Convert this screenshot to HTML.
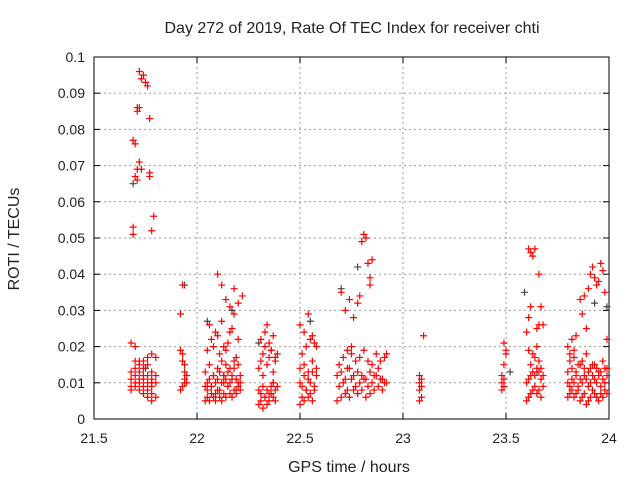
<!DOCTYPE html>
<html><head><meta charset="utf-8"><style>
body{margin:0;background:#fff}
svg text{font-family:"Liberation Sans",sans-serif;font-size:14px;fill:#222}
svg text.big{font-size:16px}
</style></head><body>
<svg id="chart" width="640" height="480" xmlns="http://www.w3.org/2000/svg">
<rect width="640" height="480" fill="#fff"/>
<g id="grid"></g>
<g id="axes"></g>
<g id="pts"></g>
<text class="big" x="352" y="33" text-anchor="middle">Day 272 of 2019, Rate Of TEC Index for receiver chti</text>
<text class="big" x="349" y="472" text-anchor="middle">GPS time / hours</text>
<text class="big" transform="translate(19,239) rotate(-90)" text-anchor="middle">ROTI / TECUs</text>
</svg>
<script>
const xTicks=[21.5,22,22.5,23,23.5,24];
const xTickLabels=["21.5","22","22.5","23","23.5","24"];
const yTicks=[0,0.01,0.02,0.03,0.04,0.05,0.06,0.07,0.08,0.09,0.1];
const yTickLabels=["0","0.01","0.02","0.03","0.04","0.05","0.06","0.07","0.08","0.09","0.1"];
const redX=[21.72,21.74,21.73,21.75,21.76,21.71,21.72,21.77,21.69,21.70,21.72,21.71,21.73,21.70,21.71,21.77,21.77,21.79,21.78,21.69,21.69,
21.68,21.68,21.68,21.68,21.68,21.70,21.70,21.70,21.70,21.70,21.70,21.72,21.72,21.72,21.72,21.72,21.72,21.74,21.74,21.74,21.74,21.74,21.74,21.76,21.76,21.76,21.76,21.76,21.76,21.78,21.78,21.78,21.78,21.78,21.78,21.78,21.80,21.80,21.80,21.80,
21.92,21.93,21.92,21.93,21.93,21.94,21.94,21.94,21.95,21.93,21.92,21.95,21.94,
22.04,22.05,22.06,22.07,22.08,22.09,22.10,22.11,22.12,22.13,22.14,22.15,22.16,22.17,22.18,22.19,22.20,22.21,
22.04,22.05,22.06,22.07,22.08,22.09,22.10,22.11,22.12,22.13,22.14,22.15,22.16,22.17,22.18,22.19,22.20,22.21,
22.04,22.06,22.08,22.10,22.12,22.14,22.16,22.18,22.20,22.05,22.07,22.09,22.11,22.13,22.15,22.17,22.19,22.21,
22.05,22.07,22.09,22.11,22.13,22.15,22.17,22.19,22.06,22.08,22.10,22.12,22.14,22.16,22.18,22.20,22.10,22.12,22.14,22.16,22.18,22.20,22.22,
22.30,22.31,22.32,22.33,22.34,22.35,22.36,22.37,22.38,22.30,22.31,22.32,22.33,22.34,22.35,22.36,22.37,22.38,22.39,
22.30,22.31,22.32,22.33,22.34,22.35,22.36,22.37,22.38,22.31,22.33,22.35,22.37,22.39,22.32,22.34,22.36,22.38,
22.50,22.51,22.52,22.53,22.54,22.55,22.56,22.57,22.50,22.51,22.52,22.53,22.54,22.55,22.56,22.57,22.58,
22.50,22.52,22.54,22.56,22.58,22.51,22.53,22.55,22.57,22.50,22.52,22.54,22.56,22.58,
22.68,22.70,22.72,22.74,22.76,22.78,22.80,22.82,22.84,22.86,22.88,22.90,22.92,
22.69,22.71,22.73,22.75,22.77,22.79,22.81,22.83,22.85,22.87,22.89,22.91,
22.68,22.70,22.72,22.74,22.76,22.78,22.80,22.82,22.84,22.86,22.88,22.90,
22.69,22.71,22.73,22.75,22.77,22.79,22.81,22.83,22.85,22.87,22.89,22.91,
22.70,22.72,22.74,22.76,22.78,22.80,22.81,22.82,22.83,22.84,22.85,22.73,22.75,22.79,22.84,22.92,
23.08,23.09,23.08,23.09,23.08,23.09,23.08,23.10,
23.48,23.49,23.48,23.49,23.48,23.49,23.50,23.49,23.50,
23.60,23.61,23.62,23.63,23.64,23.65,23.66,23.67,23.68,23.60,23.61,23.62,23.63,23.64,23.65,23.66,23.67,23.68,23.62,23.64,23.66,23.61,23.63,23.65,23.67,
23.60,23.61,23.65,23.66,23.67,23.62,23.64,23.63,23.66,23.62,23.61,23.68,
23.80,23.81,23.82,23.83,23.84,23.85,23.86,23.87,23.88,23.89,23.90,23.91,23.92,23.93,23.94,23.95,23.96,23.97,23.98,23.99,
23.80,23.81,23.82,23.83,23.84,23.85,23.86,23.87,23.88,23.89,23.90,23.91,23.92,23.93,23.94,23.95,23.96,23.97,23.98,23.99,
23.80,23.82,23.84,23.86,23.88,23.90,23.92,23.94,23.96,23.98,23.81,23.83,23.85,23.87,23.89,23.91,23.93,23.95,23.97,23.99,
23.80,23.82,23.84,23.81,23.83,
23.86,23.88,23.90,23.91,23.92,23.93,23.95,23.96,23.97,23.98,23.99,23.94,23.89,23.87];
const redY=[0.096,0.095,0.094,0.093,0.092,0.085,0.086,0.083,0.077,0.076,0.071,0.069,0.069,0.067,0.066,0.068,0.067,0.056,0.052,0.053,0.051,
0.009,0.011,0.013,0.008,0.021,0.010,0.012,0.014,0.009,0.016,0.020,0.011,0.013,0.015,0.010,0.008,0.016,0.009,0.012,0.014,0.016,0.007,0.011,0.008,0.010,0.012,0.006,0.015,0.017,0.007,0.009,0.011,0.005,0.013,0.018,0.010,0.010,0.006,0.017,0.012,
0.029,0.037,0.019,0.018,0.016,0.015,0.013,0.011,0.010,0.009,0.008,0.012,0.010,
0.005,0.006,0.005,0.007,0.006,0.005,0.008,0.006,0.005,0.007,0.006,0.009,0.007,0.006,0.008,0.007,0.009,0.008,
0.009,0.010,0.011,0.009,0.012,0.010,0.011,0.013,0.010,0.012,0.011,0.013,0.010,0.012,0.014,0.011,0.010,0.012,
0.013,0.015,0.012,0.014,0.016,0.015,0.014,0.016,0.015,0.008,0.009,0.007,0.008,0.010,0.009,0.011,0.008,0.010,
0.019,0.022,0.024,0.018,0.020,0.021,0.025,0.017,0.026,0.020,0.023,0.027,0.019,0.024,0.029,0.022,0.040,0.037,0.033,0.031,0.036,0.032,0.034,
0.004,0.005,0.003,0.006,0.004,0.005,0.007,0.006,0.005,0.008,0.007,0.009,0.006,0.008,0.007,0.009,0.010,0.008,0.009,
0.014,0.016,0.018,0.020,0.015,0.017,0.019,0.013,0.016,0.022,0.024,0.021,0.023,0.018,0.012,0.026,0.019,0.017,
0.004,0.006,0.005,0.008,0.006,0.007,0.005,0.008,0.010,0.009,0.012,0.008,0.011,0.010,0.013,0.009,0.012,
0.014,0.015,0.013,0.016,0.014,0.018,0.020,0.022,0.021,0.026,0.024,0.029,0.023,0.020,
0.005,0.006,0.007,0.006,0.008,0.007,0.008,0.006,0.007,0.008,0.009,0.008,0.010,
0.009,0.010,0.008,0.011,0.009,0.010,0.011,0.009,0.010,0.012,0.011,0.010,
0.012,0.013,0.011,0.014,0.012,0.013,0.012,0.011,0.013,0.012,0.014,0.011,
0.015,0.017,0.014,0.018,0.016,0.017,0.019,0.016,0.015,0.018,0.016,0.017,
0.035,0.030,0.033,0.028,0.032,0.049,0.051,0.050,0.043,0.039,0.044,0.019,0.020,0.034,0.037,0.018,
0.005,0.006,0.008,0.009,0.010,0.011,0.012,0.023,
0.008,0.009,0.010,0.011,0.012,0.015,0.018,0.021,0.019,
0.005,0.006,0.007,0.008,0.009,0.007,0.008,0.006,0.009,0.010,0.011,0.012,0.013,0.012,0.014,0.013,0.011,0.012,0.015,0.017,0.016,0.019,0.018,0.020,0.014,
0.024,0.028,0.025,0.026,0.031,0.031,0.047,0.045,0.040,0.046,0.047,0.026,
0.006,0.007,0.008,0.006,0.007,0.008,0.005,0.006,0.007,0.004,0.005,0.006,0.008,0.007,0.006,0.005,0.007,0.006,0.008,0.007,
0.010,0.009,0.011,0.010,0.012,0.009,0.011,0.010,0.012,0.011,0.009,0.010,0.012,0.011,0.010,0.012,0.009,0.011,0.010,0.012,
0.013,0.014,0.013,0.015,0.014,0.013,0.015,0.014,0.013,0.014,0.016,0.017,0.015,0.016,0.018,0.014,0.015,0.013,0.016,0.014,
0.020,0.022,0.023,0.018,0.019,
0.033,0.034,0.036,0.040,0.042,0.039,0.038,0.043,0.041,0.035,0.022,0.037,0.025,0.029];
const grayX=[21.69,21.71,21.94,22.05,22.17,22.30,22.55,22.70,22.78,23.52,23.59,23.65,23.93,23.99,21.75,22.13,22.37];
const grayY=[0.065,0.086,0.037,0.027,0.030,0.021,0.027,0.036,0.042,0.013,0.035,0.013,0.032,0.031,0.014,0.012,0.010];
const L=94,R=609,T=57,B=419;
const sx=v=>L+(v-21.5)/(24-21.5)*(R-L);
const sy=v=>B-v/0.1*(B-T);
const NS="http://www.w3.org/2000/svg";
function mk(tag,attrs,parent){const e=document.createElementNS(NS,tag);for(const k in attrs)e.setAttribute(k,attrs[k]);parent.appendChild(e);return e;}
const grid=document.getElementById('grid'),axes=document.getElementById('axes'),pts=document.getElementById('pts');
xTicks.forEach((t,i)=>{const x=sx(t);
 if(i>0&&i<xTicks.length-1){const g=mk('line',{x1:x,x2:x,y1:T,y2:B,stroke:'#999','stroke-dasharray':'2,3'},grid);
 
 }
 const tl=mk('text',{x:x,y:B+24,'text-anchor':'middle'},axes);tl.textContent=xTickLabels[i];
 
 
 mk('line',{x1:x,x2:x,y1:B,y2:B-6,stroke:'#000'},axes);mk('line',{x1:x,x2:x,y1:T,y2:T+6,stroke:'#000'},axes);});
yTicks.forEach((t,i)=>{const y=sy(t);
 if(i>0&&i<yTicks.length-1){const g=mk('line',{x1:L,x2:R,y1:y,y2:y,stroke:'#999','stroke-dasharray':'2,3'},grid);
 
 }
 const tl=mk('text',{x:L-9,y:y+5,'text-anchor':'end'},axes);tl.textContent=yTickLabels[i];
 
 
 mk('line',{x1:L,x2:L+6,y1:y,y2:y,stroke:'#000'},axes);mk('line',{x1:R,x2:R-6,y1:y,y2:y,stroke:'#000'},axes);});
const fr=mk('rect',{x:L,y:T,width:R-L,height:B-T,fill:'none',stroke:'#000'},axes);


function plus(x,y,c,name){const p=mk('path',{d:`M${sx(x)-3.5},${sy(y)}h7M${sx(x)},${sy(y)-3.5}v7`,stroke:c,'stroke-width':1.2,fill:'none'},pts);
 
 }
grayX.forEach((x,i)=>plus(x,grayY[i],'#444','point-gray'));
redX.forEach((x,i)=>plus(x,redY[i],'#f00','point-red'));
</script>
</body></html>
